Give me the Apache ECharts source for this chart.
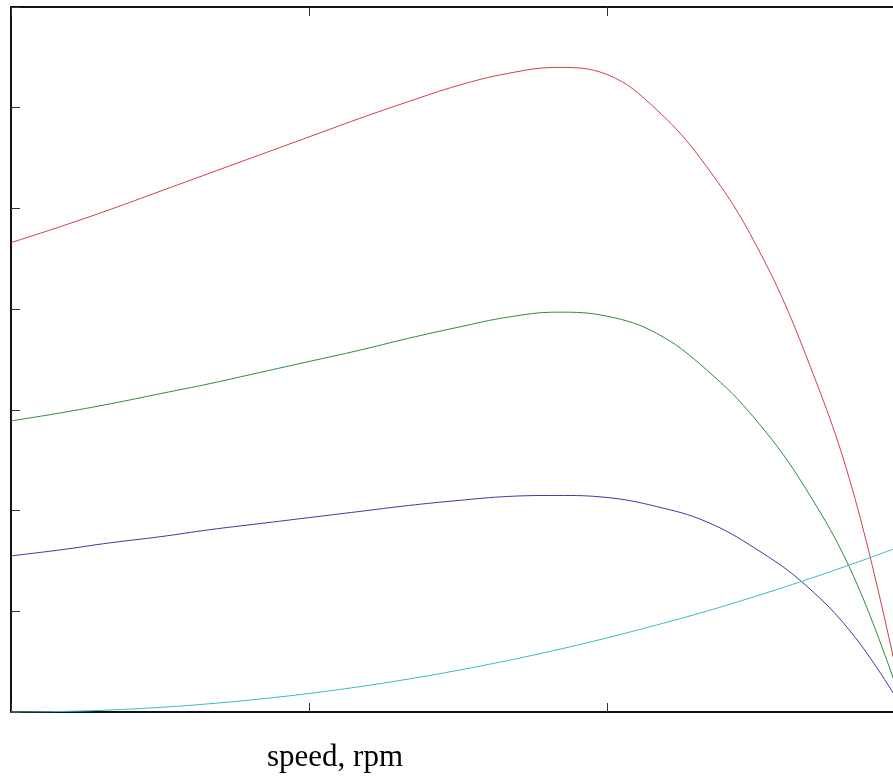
<!DOCTYPE html>
<html>
<head>
<meta charset="utf-8">
<script src="https://cdn.jsdelivr.net/npm/echarts@6/dist/echarts.min.js"></script>
<style>
  html, body { margin: 0; padding: 0; background: #fff; }
  #chart { width: 893px; height: 776px; }
</style>
</head>
<body>
<div id="chart"></div>
<script>
// Speed axis (rpm) sample points
const speed = [0, 100, 200, 300, 400, 500, 600, 700, 800, 900, 1000, 1100, 1200, 1300, 1400, 1500, 1600, 1700, 1800];
// Torque curves
const torqueRed   = [4.66, 4.82, 4.99, 5.17, 5.35, 5.53, 5.71, 5.89, 6.06, 6.22, 6.34, 6.40, 6.33, 5.98, 5.42, 4.64, 3.55, 2.11, 0];
const torqueGreen = [2.89, 2.97, 3.06, 3.16, 3.26, 3.37, 3.48, 3.59, 3.71, 3.82, 3.92, 3.97, 3.93, 3.76, 3.40, 2.90, 2.22, 1.31, 0];
const torqueBlue  = [1.55, 1.61, 1.68, 1.74, 1.81, 1.87, 1.93, 1.99, 2.05, 2.10, 2.14, 2.15, 2.13, 2.04, 1.89, 1.62, 1.26, 0.74, 0];
const torqueLoad  = [0, 0.005, 0.02, 0.046, 0.082, 0.128, 0.184, 0.25, 0.327, 0.414, 0.511, 0.618, 0.736, 0.864, 1.00, 1.15, 1.31, 1.48, 1.66];
// visible window of the speed axis (the picture is cropped just before 1800 rpm)
const xTicks = { min: 0, max: 1776, interval: 600 };
const yTicks = { min: 0, max: 7, interval: 1 };
const xLabel = 'speed, rpm';

function pairs(ys) { return speed.map((s, i) => [s, ys[i]]); }

const axisLine = { show: true, lineStyle: { color: '#111', width: 2 } };
const axisTick = { show: true, inside: true, length: 9, lineStyle: { color: '#333', width: 1 } };

const chart = echarts.init(document.getElementById('chart'), null, { renderer: 'canvas' });
const lineSeries = (data, color) => ({
  type: 'line', data: pairs(data), showSymbol: false, smooth: 0.4, clip: true,
  lineStyle: { color: color, width: 1 }, itemStyle: { color: color }, silent: true, animation: false,
  xAxisIndex: 0, yAxisIndex: 0
});

chart.setOption({
  animation: false,
  backgroundColor: '#fff',
  grid: { left: 11, top: 7, right: 0, bottom: 64, containLabel: false },
  xAxis: [
    { type: 'value', position: 'bottom', min: xTicks.min, max: xTicks.max, interval: xTicks.interval,
      axisLine, axisTick, axisLabel: { show: false }, splitLine: { show: false } },
    { type: 'value', position: 'top', min: xTicks.min, max: xTicks.max, interval: xTicks.interval,
      axisLine, axisTick, axisLabel: { show: false }, splitLine: { show: false } }
  ],
  yAxis: [
    { type: 'value', position: 'left', min: yTicks.min, max: yTicks.max, interval: yTicks.interval,
      axisLine, axisTick, axisLabel: { show: false }, splitLine: { show: false } }
  ],
  graphic: [{
    type: 'text', left: 267, top: 742,
    style: { text: xLabel, font: '31px "Liberation Serif"', fill: '#000' }
  }],
  series: [
    lineSeries(torqueRed, '#d0404a'),
    lineSeries(torqueGreen, '#2e8b3a'),
    lineSeries(torqueBlue, '#3a3a9e'),
    lineSeries(torqueLoad, '#3cbaba')
  ]
});
</script>
</body>
</html>
